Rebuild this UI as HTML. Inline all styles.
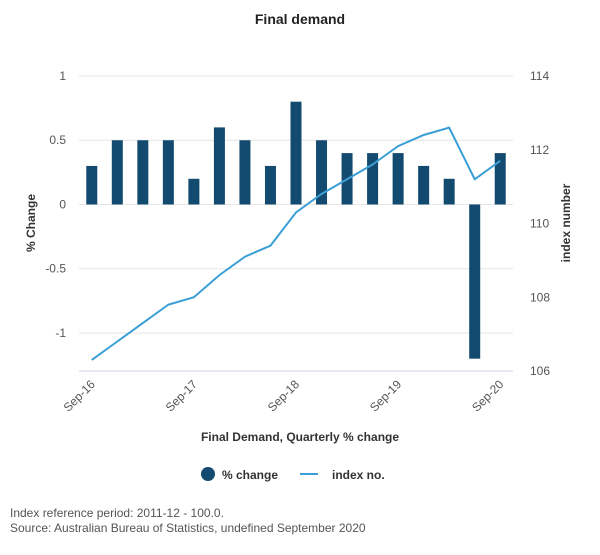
<!DOCTYPE html>
<html><head><meta charset="utf-8"><style>
body{margin:0;background:#fff;font-family:"Liberation Sans",sans-serif;}
svg text{font-family:"Liberation Sans",sans-serif;}
</style></head><body>
<svg id="chart" width="600" height="550" xmlns="http://www.w3.org/2000/svg">
<text x="300" y="24" text-anchor="middle" font-size="14" font-weight="bold" fill="#222">Final demand</text>
<g id="grid"></g><g id="bars"></g><g id="line"></g><g id="axes"></g>
<text x="300" y="441" text-anchor="middle" font-size="12" font-weight="bold" fill="#333">Final Demand, Quarterly % change</text>
<text transform="translate(35,223) rotate(-90)" text-anchor="middle" font-size="12" font-weight="bold" fill="#333">% Change</text>
<text transform="translate(570,223) rotate(-90)" text-anchor="middle" font-size="12" font-weight="bold" fill="#333">index number</text>
<g>
<g><circle cx="208" cy="474" r="7" fill="#134a70"/><text x="222" y="479" font-size="12" font-weight="bold" fill="#333">% change</text></g>
<g><line x1="300" y1="474" x2="318" y2="474" stroke="#3a9fd6" stroke-width="2"/><text x="332" y="479" font-size="12" font-weight="bold" fill="#333">index no.</text></g>
</g>
<text x="10" y="517" font-size="12" fill="#555">Index reference period: 2011-12 - 100.0.</text>
<text x="10" y="532" font-size="12" fill="#555">Source: Australian Bureau of Statistics, undefined September 2020</text>
</svg>
<script>
const categories=["Sep-16","Dec-16","Mar-17","Jun-17","Sep-17","Dec-17","Mar-18","Jun-18","Sep-18","Dec-18","Mar-19","Jun-19","Sep-19","Dec-19","Mar-20","Jun-20","Sep-20"];
const pctChange=[0.3,0.5,0.5,0.5,0.2,0.6,0.5,0.3,0.8,0.5,0.4,0.4,0.4,0.3,0.2,-1.2,0.4];
const indexNo=[106.3,106.8,107.3,107.8,108.0,108.6,109.1,109.4,110.3,110.8,111.2,111.6,112.1,112.4,112.6,111.2,111.7];
const leftTicks=[1,0.5,0,-0.5,-1];
const rightTicks=[114,112,110,108,106];
const xTickLabels=["Sep-16","Sep-17","Sep-18","Sep-19","Sep-20"];
const NS="http://www.w3.org/2000/svg";
const X0=79,X1=513,TOP=76,BOT=371;
const yL=v=>TOP+(1-v)/(1+1.296)*(BOT-TOP);
const yR=v=>TOP+(114-v)/8*(BOT-TOP);
const band=(X1-X0)/categories.length;
const xC=i=>X0+band*(i+0.5);
function mk(t,a,p){const e=document.createElementNS(NS,t);for(const k in a)e.setAttribute(k,a[k]);p.appendChild(e);return e;}
const grid=document.getElementById('grid'),axes=document.getElementById('axes');
leftTicks.forEach(v=>{
 const g=mk('line',{x1:X0,x2:X1,y1:yL(v),y2:yL(v),stroke:'#e6e6e6'},grid);
 
 
 const t=mk('text',{x:66,y:yL(v)+4,'text-anchor':'end','font-size':12,fill:'#555'},axes);t.textContent=v;
 
 
});
rightTicks.forEach(v=>{
 const t=mk('text',{x:530,y:yR(v)+4,'font-size':12,fill:'#555'},axes);t.textContent=v;
 
 
});
const ax=mk('line',{x1:X0,x2:X1,y1:BOT,y2:BOT,stroke:'#ccd6eb'},axes);


categories.forEach((c,i)=>{
 if(xTickLabels.indexOf(c)<0)return;
 const x=xC(i);
 const t=mk('text',{transform:`translate(${x+4},${BOT+14}) rotate(-45)`,'text-anchor':'end','font-size':12,fill:'#555'},axes);t.textContent=c;
 
 
});
const bars=document.getElementById('bars');
pctChange.forEach((v,i)=>{
 const y0=yL(0),y1=yL(v);
 const r=mk('rect',{x:xC(i)-5.5,width:11,y:Math.min(y0,y1),height:Math.abs(y1-y0),fill:'#134a70'},bars);
 
 
});
const pts=indexNo.map((v,i)=>xC(i)+','+yR(v)).join(' ');
const pl=mk('polyline',{points:pts,fill:'none',stroke:'#3a9fd6','stroke-width':2},document.getElementById('line'));


</script>
</body></html>
